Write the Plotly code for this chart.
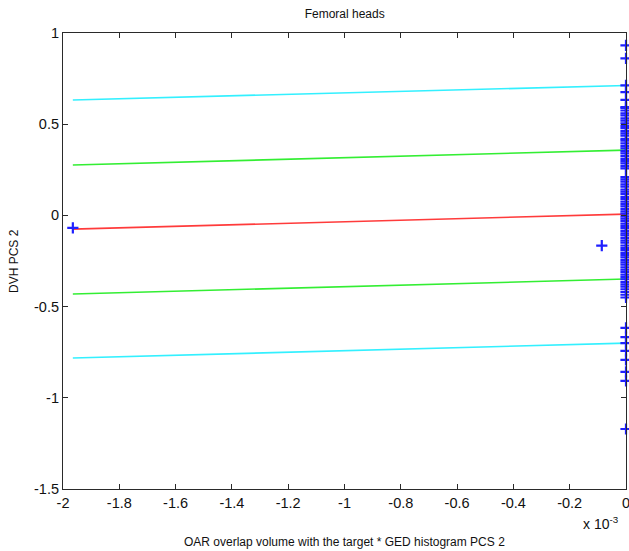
import plotly.graph_objects as go

# x values are expressed in units of 1e-3 (shown via the "x 10^-3" axis multiplier)
line_x = [-1.965, 0.0]
red_y = [-0.075, 0.007]
green_upper_y = [0.276, 0.358]
green_lower_y = [-0.431, -0.349]
cyan_upper_y = [0.633, 0.712]
cyan_lower_y = [-0.782, -0.700]

# scatter samples away from zero
outlier_x = [-1.965, -0.086]
outlier_y = [-0.068, -0.166]

# samples sitting at x = 0
zero_y = [0.932, 0.861, 0.713, 0.676, 0.633, 0.594,
          0.59, 0.575, 0.56, 0.548, 0.532, 0.52, 0.505, 0.49, 0.478, 0.462,
          0.45, 0.437, 0.42, 0.41, 0.395, 0.38, 0.368, 0.352, 0.34, 0.325,
          0.31, 0.298, 0.285, 0.27, 0.258, 0.21, 0.198, 0.185, 0.17, 0.158,
          0.142, 0.13, 0.118, 0.102, 0.09, 0.075, 0.062, 0.05, 0.035, 0.022,
          0.01, -0.005, -0.018, -0.03, -0.045, -0.058, -0.07, -0.085, -0.098,
          -0.11, -0.125, -0.138, -0.15, -0.165, -0.178, -0.19, -0.205, -0.218,
          -0.23, -0.245, -0.258, -0.27, -0.285, -0.298, -0.31, -0.325, -0.338,
          -0.35, -0.365, -0.378, -0.39, -0.405, -0.42, -0.435, -0.45,
          -0.617, -0.667, -0.70, -0.743, -0.792, -0.858, -0.907, -1.171]
zero_x = [0.0] * len(zero_y)

x_ticks = [-2, -1.8, -1.6, -1.4, -1.2, -1, -0.8, -0.6, -0.4, -0.2, 0]
x_tick_text = ["-2", "-1.8", "-1.6", "-1.4", "-1.2", "-1", "-0.8", "-0.6", "-0.4", "-0.2", "0"]
y_ticks = [-1.5, -1, -0.5, 0, 0.5, 1]
y_tick_text = ["-1.5", "-1", "-0.5", "0", "0.5", "1"]

FONT = "Liberation Sans, Arial, Helvetica, sans-serif"
marker_style = dict(symbol="cross-thin", size=8, line=dict(color="#2020ff", width=2.2))

fig = go.Figure()

for ys, col in [(cyan_upper_y, "#33f0ff"), (green_upper_y, "#33ee33"), (red_y, "#ff3b3b"),
                (green_lower_y, "#33ee33"), (cyan_lower_y, "#33f0ff")]:
    fig.add_trace(go.Scatter(x=line_x, y=ys, mode="lines",
                             line=dict(color=col, width=1.6), showlegend=False,
                             cliponaxis=False))

fig.add_trace(go.Scatter(x=zero_x + outlier_x, y=zero_y + outlier_y, mode="markers",
                         marker=marker_style, showlegend=False, cliponaxis=False))

axis_common = dict(showgrid=False, zeroline=False, showline=True, linecolor="#2a2a2a",
                   linewidth=1.2, mirror="ticks", ticks="inside", ticklen=5,
                   tickcolor="#2a2a2a", tickwidth=1.2, ticklabeloverflow="allow",
                   automargin=False,
                   tickfont=dict(family=FONT, size=14.5, color="#111111"))

fig.update_layout(
    width=629, height=551,
    margin=dict(l=63, r=3, t=33, b=62, autoexpand=False),
    paper_bgcolor="white", plot_bgcolor="white",
    title=dict(text="Femoral heads", x=0.548, xanchor="center", y=0.975, yanchor="middle",
               font=dict(family=FONT, size=12, color="#111111")),
    xaxis=dict(range=[-2, 0], tickvals=x_ticks, ticktext=x_tick_text, **axis_common),
    yaxis=dict(range=[-1.5, 1], tickvals=y_ticks, ticktext=y_tick_text, **axis_common),
    annotations=[
        dict(text="OAR overlap volume with the target * GED histogram PCS 2",
             xref="paper", yref="paper", x=0.5, y=-0.116, xanchor="center", yanchor="middle",
             showarrow=False, font=dict(family=FONT, size=12, color="#111111")),
        dict(text="DVH PCS 2", textangle=-90, xref="paper", yref="paper",
             x=-0.087, y=0.5, xanchor="center", yanchor="middle",
             showarrow=False, font=dict(family=FONT, size=12, color="#111111")),
        dict(text="x 10<sup>-3</sup>", xref="paper", yref="paper", x=0.955, y=-0.075,
             xanchor="center", yanchor="middle", showarrow=False,
             font=dict(family=FONT, size=14, color="#111111")),
    ],
)

fig.write_html("out.html")
